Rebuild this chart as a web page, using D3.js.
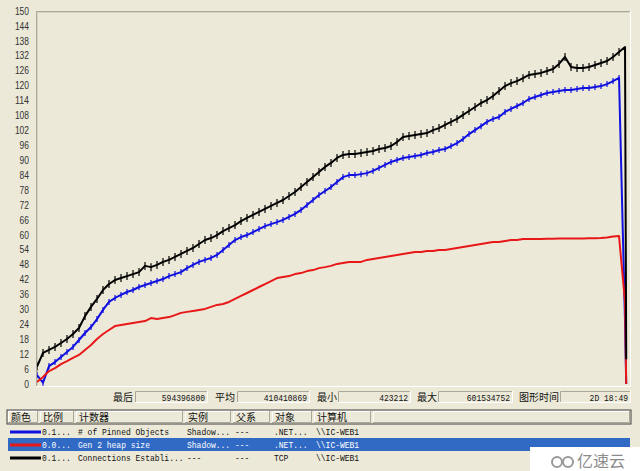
<!DOCTYPE html>
<html lang="zh">
<head>
<meta charset="UTF-8">
<title>性能监视器</title>
<script src="https://d3js.org/d3.v7.min.js"></script>
<style>
  body { margin: 0; background: #ece9d8; }
  svg { display: block; }
  .ylab text { font-family: "Liberation Sans", Arial, sans-serif; font-size: 10px; fill: #333; }
  .cjk { font-family: "Noto Sans CJK SC", sans-serif; font-size: 10px; fill: #111; }
  .mono { font-family: "Liberation Mono", "DejaVu Sans Mono", monospace; font-size: 8px; fill: #111; }
</style>
</head>
<body>
<div id="chart"></div>
<script>
// y axis tick labels
const yTicks = [0, 6, 12, 18, 24, 30, 36, 42, 48, 54, 60, 66, 72, 78, 84, 90, 96, 102, 108, 114, 120, 126, 132, 138, 144, 150];

// sample positions (last two samples are the final drop)
const sampleTimes = d3.range(98).concat([98, 98.2]);

// Connections Established (black)
const connValues = [
  7, 12.5, 13.7, 14.9, 16.5, 18.1, 20.1, 22.5, 27.3, 31,
  34.2, 37.8, 40.2, 41.8, 42.6, 43.4, 44.2, 45, 47.5, 47,
  47.9, 49.1, 49.9, 51.1, 52.3, 53.5, 54.7, 56.3, 57.9, 58.7,
  59.9, 61.5, 62.7, 63.9, 65.5, 66.8, 68, 69.2, 70.4, 71.6,
  72.8, 74, 75.6, 77.2, 79.2, 81.2, 83.2, 85.3, 87.3, 88.9,
  90.9, 92.1, 92.5, 92.5, 92.9, 93.3, 93.7, 94.5, 94.9, 95.7,
  97.3, 99.3, 99.7, 100.1, 100.5, 100.9, 102.1, 102.9, 104.2, 105.4,
  106.6, 108.2, 109.8, 111.4, 113, 114.2, 115.8, 117.8, 119.8, 121,
  121.8, 123, 124.3, 124.7, 125.1, 125.9, 126.7, 128.7, 131.5, 127.5,
  127.1, 127.1, 127.5, 128.3, 129.1, 129.9, 131.5, 133.5, 135.5, 10
];

// # of Pinned Objects (blue)
const pinnedValues = [
  3.6, 0.5, 7.2, 8.8, 10.9, 12.9, 14.9, 17.7, 20.5, 22.9,
  26.1, 29.8, 33, 34.6, 35.8, 37, 37.8, 39, 39.8, 40.6,
  41.4, 42.2, 43.4, 44.2, 45, 46.6, 47.9, 49.1, 49.9, 50.7,
  51.9, 53.9, 55.9, 57.9, 59.1, 59.9, 61.1, 62.3, 63.5, 64.3,
  65.1, 66, 67.2, 68.4, 70, 72, 74, 76, 77.6, 79.2,
  81.2, 83.2, 84, 84, 84.4, 84.8, 85.7, 86.9, 88.1, 89.3,
  90.1, 90.9, 91.3, 91.7, 92.1, 92.9, 93.3, 94.1, 94.5, 95.7,
  96.9, 98.5, 100.5, 102.1, 103.7, 105.4, 106.6, 107.4, 109.4, 110.6,
  111.8, 113, 114.6, 115.4, 116.2, 117, 117.4, 117.8, 118.2, 118.2,
  118.6, 119, 119, 119.4, 119.8, 120.6, 121.8, 123.1, 25, 0
];

// Gen 2 heap size (red)
const heapValues = [
  0.8, 2.8, 5.2, 6.4, 8, 9.2, 10.5, 11.7, 13.7, 15.7,
  18.1, 20.1, 21.7, 23.3, 23.7, 24.1, 24.5, 24.9, 25.3, 26.5,
  26.1, 26.5, 26.9, 27.7, 28.6, 29, 29.4, 29.8, 30.2, 31,
  31.8, 32.2, 33, 34.2, 35.4, 36.6, 37.8, 39, 40.2, 41.4,
  42.6, 43, 43.4, 44.2, 44.6, 45.4, 45.8, 46.6, 47, 47.5,
  48.3, 48.7, 49.1, 49.1, 49.1, 49.9, 50.3, 50.7, 51.1, 51.5,
  51.9, 52.3, 52.7, 53.1, 53.1, 53.5, 53.5, 53.9, 53.9, 54.3,
  54.7, 55.1, 55.5, 55.9, 56.3, 56.7, 57.1, 57.1, 57.5, 57.9,
  57.9, 58.3, 58.3, 58.3, 58.3, 58.4, 58.4, 58.5, 58.5, 58.5,
  58.5, 58.5, 58.6, 58.6, 58.7, 58.9, 59.3, 59.5, 33, 0
];

// status bar
const statLabels = ["最后", "平均", "最小", "最大", "图形时间"];
const statValues = ["594396800", "410410869", "423212", "601534752", "2D 18:49"];

// counter list
const columns = ["颜色", "比例", "计数器", "实例", "父系", "对象", "计算机"];
const counterRows = [
  { color: "#1010e0", scale: "0.1...", counter: "# of Pinned Objects", instance: "Shadow...", parent: "---", object: ".NET...", computer: "\\\\IC-WEB1" },
  { color: "#e81818", scale: "0.0...", counter: "Gen 2 heap size", instance: "Shadow...", parent: "---", object: ".NET...", computer: "\\\\IC-WEB1" },
  { color: "#000000", scale: "0.1...", counter: "Connections Establi...", instance: "---", parent: "---", object: "TCP", computer: "\\\\IC-WEB1" }
];

const width = 640, height = 471;
const plot = { left: 36, top: 11, right: 630, bottom: 386 };

const svg = d3.select("#chart").append("svg")
    .attr("width", width)
    .attr("height", height);

const x = d3.scaleLinear().domain([0, 98.83]).range([37, plot.right]);
const y = d3.scaleLinear().domain([0, 150]).range([384, plot.top]);

// plot frame
svg.append("rect")
    .attr("x", plot.left).attr("y", plot.top)
    .attr("width", plot.right - plot.left).attr("height", plot.bottom - plot.top)
    .attr("fill", "#ece9d8");
svg.append("path")
    .attr("d", `M${plot.left + 0.5},${plot.bottom}V${plot.top + 0.5}H${plot.right}`)
    .attr("fill", "none").attr("stroke", "#aca899");
svg.append("path")
    .attr("d", `M${plot.left + 1.5},${plot.bottom}V${plot.top + 1.5}H${plot.right - 1}`)
    .attr("fill", "none").attr("stroke", "#d6d2c2");
svg.append("path")
    .attr("d", `M${plot.left},${plot.bottom + 0.5}H${plot.right + 0.5}V${plot.top}`)
    .attr("fill", "none").attr("stroke", "#ffffff");

// y axis
const yAxis = svg.append("g")
    .attr("class", "ylab")
    .attr("transform", `translate(${plot.left},0)`)
    .call(d3.axisLeft(y).tickValues(yTicks).tickSize(0).tickPadding(7));
yAxis.select(".domain").remove();
yAxis.selectAll("text")
    .attr("textLength", d => String(d).length * 4.7)
    .attr("lengthAdjust", "spacingAndGlyphs");

// clip lines to plot area
svg.append("clipPath").attr("id", "clip")
  .append("rect")
    .attr("x", plot.left + 1).attr("y", plot.top + 1)
    .attr("width", plot.right - plot.left - 1).attr("height", plot.bottom - plot.top - 1);

const g = svg.append("g").attr("clip-path", "url(#clip)");

const line = d3.line()
    .x((d, i) => x(sampleTimes[i]))
    .y(d => y(d));

const series = [
  { values: pinnedValues, color: "#1010e0", tick: 3 },
  { values: heapValues, color: "#e81818", tick: 0 },
  { values: connValues, color: "#000000", tick: 4 }
];

series.forEach(s => {
  g.append("path")
      .datum(s.values)
      .attr("fill", "none")
      .attr("stroke", s.color)
      .attr("stroke-width", 2)
      .attr("stroke-linejoin", "round")
      .attr("d", line);

  if (s.tick > 0) {
    g.selectAll(null)
      .data(s.values.slice(0, 98))
      .enter()
      .append("line")
        .attr("x1", (d, i) => x(sampleTimes[i]))
        .attr("x2", (d, i) => x(sampleTimes[i]))
        .attr("y1", d => y(d) - s.tick)
        .attr("y2", d => y(d) + s.tick)
        .attr("stroke", s.color)
        .attr("stroke-width", 1.2);
  }
});

// narrow bitmap-like text: 8px mono stretched vertically
function narrowText(tx, ty, str, anchor, fill) {
  svg.append("text").attr("class", "mono")
      .attr("transform", `translate(${tx},${ty}) scale(1,1.2)`)
      .attr("text-anchor", anchor)
      .style("fill", fill)
      .text(str);
}

// sunken box helper
function sunken(x0, y0, w, h) {
  svg.append("path")
      .attr("d", `M${x0 + 0.5},${y0 + h}V${y0 + 0.5}H${x0 + w}`)
      .attr("fill", "none").attr("stroke", "#aca899");
  svg.append("path")
      .attr("d", `M${x0},${y0 + h - 0.5}H${x0 + w - 0.5}V${y0}`)
      .attr("fill", "none").attr("stroke", "#ffffff");
}

// status bar
const statLabelX = [113, 215, 317, 417, 519];
const statBoxX = [[135, 208], [237, 310], [338, 411], [438, 513], [560, 631]];
statLabels.forEach((t, i) => {
  svg.append("text").attr("class", "cjk")
      .attr("x", statLabelX[i]).attr("y", 401)
      .text(t);
  const [b0, b1] = statBoxX[i];
  sunken(b0, 391, b1 - b0, 12);
  narrowText(b1 - 3, 401, statValues[i], "end", "#111");
});

// counter list
const colX = [7, 39, 75, 184, 232, 271, 313, 372, 631];
const headTop = 410, headH = 14;
svg.append("rect")
    .attr("x", colX[0]).attr("y", headTop)
    .attr("width", colX[colX.length - 1] - colX[0]).attr("height", headH)
    .attr("fill", "#ece9d8").attr("stroke", "#404040").attr("stroke-width", 1);
for (let i = 0; i < colX.length - 1; i++) {
  const x0 = colX[i], x1 = colX[i + 1];
  svg.append("path")
      .attr("d", `M${x0 + 1.5},${headTop + headH - 1}V${headTop + 1.5}H${x1 - 1}`)
      .attr("fill", "none").attr("stroke", "#ffffff");
  svg.append("path")
      .attr("d", `M${x0 + 1},${headTop + headH - 1.5}H${x1 - 1.5}V${headTop + 1}`)
      .attr("fill", "none").attr("stroke", "#aca899");
  if (columns[i]) {
    svg.append("text").attr("class", "cjk")
        .attr("x", x0 + 4).attr("y", headTop + 11)
        .text(columns[i]);
  }
}

const rowTop = 425, rowH = 13;
const fields = ["scale", "counter", "instance", "parent", "object", "computer"];
counterRows.forEach((r, i) => {
  const ry = rowTop + i * rowH;
  const selected = i === 1;
  if (selected) {
    svg.append("rect")
        .attr("x", colX[0] + 1).attr("y", ry)
        .attr("width", 630 - colX[0] - 1).attr("height", rowH)
        .attr("fill", "#316ac5");
  }
  svg.append("line")
      .attr("x1", 10).attr("x2", 41)
      .attr("y1", ry + 7).attr("y2", ry + 7)
      .attr("stroke", r.color).attr("stroke-width", 3);
  fields.forEach((f, j) => {
    narrowText(colX[j + 1] + 3, ry + 10, r[f], "start", selected ? "#ffffff" : "#111");
  });
});

// watermark
const wm = svg.append("g");
wm.append("rect")
    .attr("x", 530).attr("y", 447).attr("width", 110).attr("height", 24)
    .attr("fill", "#ffffff");
wm.append("circle").attr("cx", 557).attr("cy", 462).attr("r", 5)
    .attr("fill", "none").attr("stroke", "#999").attr("stroke-width", 2);
wm.append("circle").attr("cx", 568).attr("cy", 462).attr("r", 5)
    .attr("fill", "none").attr("stroke", "#999").attr("stroke-width", 2);
wm.append("text")
    .attr("x", 577).attr("y", 467)
    .style("font-family", "'Noto Sans CJK SC', sans-serif")
    .style("font-size", "16px")
    .style("fill", "#8c8c8c")
    .text("亿速云");
</script>
</body>
</html>
